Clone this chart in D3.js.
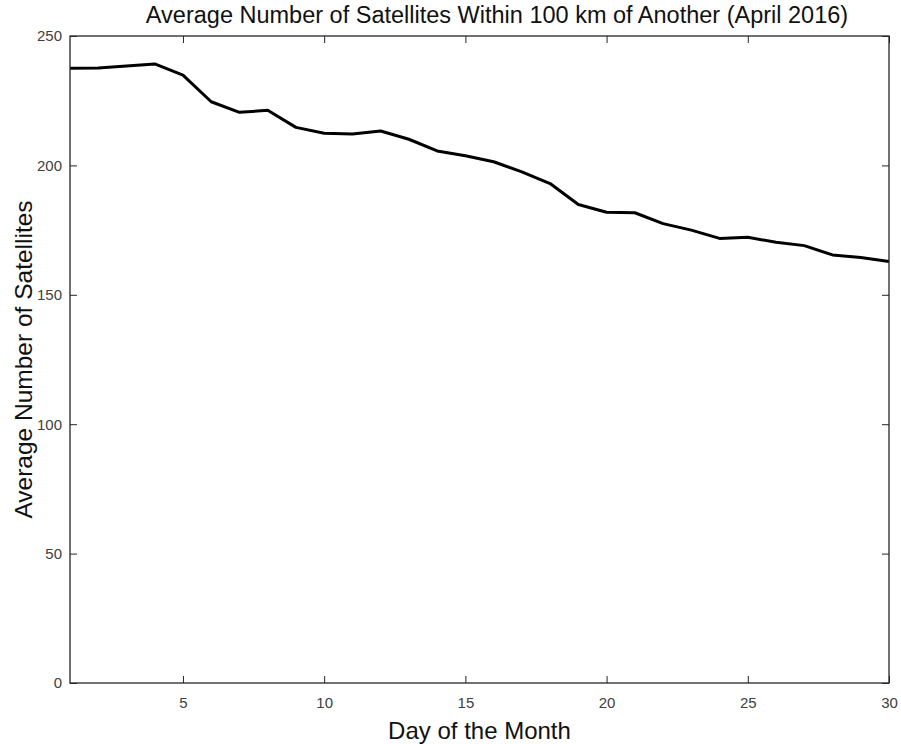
<!DOCTYPE html>
<html><head><meta charset="utf-8">
<script src="https://cdn.jsdelivr.net/npm/d3@7"></script>
<style>body{margin:0;background:#fff}svg{display:block}</style>
</head><body>
<script>
const days = d3.range(1, 31);
const avgSatellites = [237.5, 237.6, 238.4, 239.2, 234.9, 224.6, 220.5, 221.3, 214.7, 212.4,
  212.1, 213.3, 210.1, 205.6, 203.7, 201.4, 197.5, 193.0, 184.9, 181.9,
  181.7, 177.5, 175.0, 171.8, 172.2, 170.3, 169.0, 165.4, 164.4, 162.9];
const xTicks = [5, 10, 15, 20, 25, 30];
const yTicks = [0, 50, 100, 150, 200, 250];
const titleText = "Average Number of Satellites Within 100 km of Another (April 2016)";
const xLabel = "Day of the Month";
const yLabel = "Average Number of Satellites";

const W = 901, H = 744;
const m = {left: 70, right: 12, top: 36, bottom: 61};
const svg = d3.select("body").append("svg").attr("width", W).attr("height", H)
  .style("font-family", "'Liberation Sans', Arial, sans-serif");

const x = d3.scaleLinear().domain([1, 30]).range([m.left, W - m.right]);
const y = d3.scaleLinear().domain([0, 250]).range([H - m.bottom, m.top]);
const axCol = "#262626";
const tk = 7;

const g = svg.append("g");
g.append("path").datum(days.map((d, i) => [d, avgSatellites[i]]))
  .attr("fill", "none").attr("stroke", "#000").attr("stroke-width", 3)
  .attr("stroke-linejoin", "round")
  .attr("d", d3.line().x(d => x(d[0])).y(d => y(d[1])));

function styleAxis(sel) {
  sel.select(".domain").remove();
  sel.selectAll(".tick line").attr("stroke", axCol);
  sel.selectAll(".tick text").attr("fill", "#404040").style("font-size", "15px")
    .style("font-family", "'Liberation Sans', Arial, sans-serif");
}
svg.append("g").attr("transform", `translate(0,${y(0)})`)
  .call(d3.axisBottom(x).tickValues(xTicks).tickSizeInner(-tk).tickSizeOuter(0).tickPadding(14))
  .call(styleAxis);
svg.append("g").attr("transform", `translate(0,${y(250)})`)
  .call(d3.axisTop(x).tickValues(xTicks).tickSizeInner(-tk).tickSizeOuter(0).tickFormat(""))
  .call(styleAxis);
svg.append("g").attr("transform", `translate(${x(1)},0)`)
  .call(d3.axisLeft(y).tickValues(yTicks).tickSizeInner(-tk).tickSizeOuter(0).tickPadding(8))
  .call(styleAxis);
svg.append("g").attr("transform", `translate(${x(30)},0)`)
  .call(d3.axisRight(y).tickValues(yTicks).tickSizeInner(-tk).tickSizeOuter(0).tickFormat(""))
  .call(styleAxis);
svg.append("rect").attr("x", x(1)).attr("y", y(250))
  .attr("width", x(30) - x(1)).attr("height", y(0) - y(250))
  .attr("fill", "none").attr("stroke", axCol).attr("stroke-width", 1.3);

svg.append("text").attr("x", 497).attr("y", 23)
  .attr("text-anchor", "middle").style("font-size", "23.5px").attr("fill", "#111").text(titleText);
svg.append("text").attr("x", (x(1) + x(30)) / 2).attr("y", 739)
  .attr("text-anchor", "middle").style("font-size", "24px").attr("fill", "#111").text(xLabel);
svg.append("text").attr("transform", `translate(32,${(y(0) + y(250)) / 2}) rotate(-90)`)
  .attr("text-anchor", "middle").style("font-size", "24.5px").attr("fill", "#111").text(yLabel);
</script>
</body></html>
